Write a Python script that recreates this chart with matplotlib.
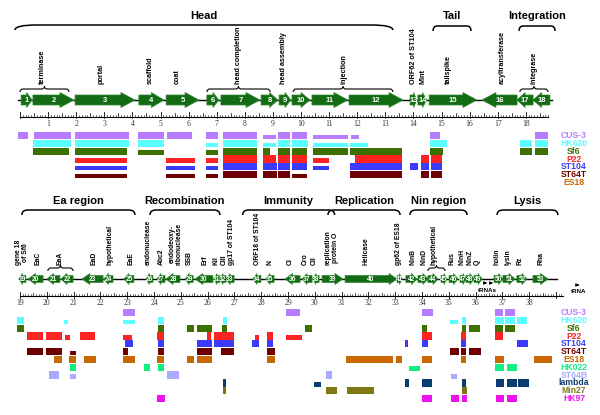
import numpy as np
import matplotlib.pyplot as plt
from matplotlib.path import Path
from matplotlib.patches import PathPatch, Polygon

plt.rcParams['font.family'] = ['Liberation Sans', 'DejaVu Sans']

# ---- gene maps (kb): number, start, end, strand ----
genes_top = [
    (1, 0.04, 0.43, 1), (2, 0.46, 1.92, 1), (3, 1.96, 4.09, 1), (4, 4.23, 5.12, 1),
    (5, 5.20, 6.37, 1), (6, 6.65, 7.08, 1), (7, 7.15, 8.54, 1), (8, 8.58, 9.18, 1),
    (9, 9.22, 9.64, 1), (10, 9.68, 10.32, 1), (11, 10.39, 11.67, 1), (12, 11.71, 13.63, 1),
    (13, 13.88, 14.13, 1), (14, 14.16, 14.48, 1), (15, 14.56, 16.26, 1),
    (16, 16.44, 17.69, -1), (17, 17.69, 18.26, -1), (18, 18.26, 18.86, -1),
]
genes_bot = [
    (19, 18.96, 19.22, -1), (20, 19.30, 19.86, -1), (21, 20.01, 20.49, -1), (22, 20.53, 20.98, -1),
    (23, 21.31, 22.10, -1), (24, 22.13, 22.47, -1), (25, 22.88, 23.25, -1), (26, 23.70, 23.96, -1),
    (27, 24.11, 24.41, -1), (28, 24.45, 24.97, -1), (29, 25.16, 25.46, -1), (30, 25.53, 26.20, -1),
    (31, 26.24, 26.46, -1), (32, 26.46, 26.69, -1), (33, 26.69, 26.99, -1), (34, 27.69, 27.99, -1),
    (35, 28.18, 28.48, -1), (36, 28.89, 29.45, -1), (37, 29.52, 29.90, -1), (38, 29.93, 30.16, -1),
    (39, 30.27, 31.05, 1), (40, 31.13, 33.07, 1), (41, 33.07, 33.25, 1), (42, 33.40, 33.81, 1),
    (43, 33.85, 34.22, 1), (44, 34.22, 34.60, 1), (45, 34.71, 34.93, 1), (46, 35.01, 35.34, 1),
    (47, 35.42, 35.64, 1), (48, 35.64, 35.94, 1), (49, 35.94, 36.24, 1), (50, 36.69, 37.02, 1),
    (51, 37.02, 37.47, 1), (52, 37.54, 37.92, 1), (53, 38.14, 38.70, 1),
]

names_top = [("terminase", 0.78), ("portal", 2.88), ("scaffold", 4.63), ("coat", 5.59),
             ("head completion", 7.76), ("head assembly", 9.36), ("injection", 11.53),
             ("ORF62 of ST104", 13.99), ("Mint", 14.34), ("tailspike", 15.23),
             ("acyltransferase", 17.15), ("integrase", 18.29)]
names_bot = [("gene 18\nof Sf6", 19.07), ("EaC", 19.67), ("EaA", 20.49), ("EaD", 21.76),
             ("hypothetical", 22.36), ("EaE", 23.14), ("endonuclease", 23.78), ("Abc2", 24.26),
             ("endodeoxy-\nribonuclease", 24.82), ("SSB", 25.31), ("Erf", 25.90), ("Kil", 26.31),
             ("CIII", 26.61), ("gp17 of ST104", 26.91), ("ORF18 of ST104", 27.88), ("N", 28.33),
             ("CI", 29.07), ("Cro", 29.63), ("CII", 29.97), ("replication\nprotein O", 30.64),
             ("Helicase", 31.91), ("gp62 of ES18", 33.14), ("NinB", 33.66), ("NinD", 34.07),
             ("hypothetical", 34.45), ("Rus", 35.12), ("NinH", 35.49), ("NinZ", 35.79),
             ("Q", 36.05), ("holin", 36.80), ("lysin", 37.21), ("Rz", 37.66), ("Rha", 38.44)]

# functional regions: label, start, end
regions_top = [("Head", -0.18, 13.27), ("Tail", 14.70, 16.05), ("Integration", 17.76, 19.04)]
regions_bot = [("Ea region", 19.07, 23.29), ("Recombination", 23.85, 26.46),
               ("Immunity", 27.31, 30.74), ("Replication", 30.49, 33.18),
               ("Nin region", 33.55, 35.68), ("Lysis", 36.80, 39.07)]
small_braces_top = [(-0.0, 1.74), (6.65, 8.90), (9.72, 13.27), (17.79, 18.79)]
small_braces_bot = [(20.04, 20.98), (34.22, 34.86)]

phages = ["CUS-3", "HK620", "Sf6", "P22", "ST104", "ST64T", "ES18",
          "HK022", "ST64B", "lambda", "Min27", "HK97"]
colors = ["#b77cff", "#5cffff", "#3d7000", "#ff2222", "#3b3bff", "#6e0000", "#cc6600",
          "#10f080", "#aaaaff", "#0c3c70", "#7d7814", "#ee10ee"]

# homologous regions per phage (kb); a third item marks a weak (thin) match
hits_top = {
    "CUS-3": [(-0.07, 0.28), (0.50, 1.81), (1.96, 3.88), (4.20, 5.12), (5.23, 6.12),
              (6.62, 7.05), (7.22, 8.43), (8.65, 9.11, 1), (9.18, 9.61), (9.68, 10.21),
              (10.43, 11.67, 1), (11.78, 12.06, 1), (14.59, 14.95), (18.33, 18.79)],
    "HK620": [(0.46, 1.81), (1.96, 3.88), (4.20, 5.12), (6.62, 7.05, 1), (7.22, 8.43),
              (8.65, 9.11, 1), (9.18, 9.61), (9.68, 10.25), (10.43, 11.67, 1),
              (11.74, 12.38, 1), (14.59, 15.20), (17.79, 18.22), (18.33, 18.79)],
    "Sf6": [(0.46, 1.74), (1.96, 3.81), (4.20, 5.12, 1), (6.62, 7.05, 1), (7.22, 8.43),
            (8.65, 8.90), (9.18, 9.61), (9.68, 10.21), (10.43, 11.67), (11.74, 13.59),
            (14.59, 15.05), (17.79, 18.22), (18.33, 18.79)],
    "P22": [(1.96, 3.81, 1), (5.20, 6.23, 1), (6.62, 7.05, 1), (7.22, 8.43), (8.65, 9.11),
            (9.18, 9.61), (9.68, 10.21), (10.43, 11.00, 1), (11.92, 13.59), (14.27, 14.56),
            (14.63, 15.02)],
    "ST104": [(1.96, 3.81, 1), (5.20, 6.23, 1), (6.62, 7.05, 1), (7.22, 8.43), (8.65, 9.15),
              (9.18, 9.61), (9.68, 10.21), (10.43, 11.00, 1), (11.74, 13.59), (13.88, 14.16),
              (14.27, 14.56), (14.63, 15.02)],
    "ST64T": [(1.96, 3.81, 1), (5.20, 6.23, 1), (6.62, 7.05, 1), (7.22, 8.43), (8.65, 9.15),
              (9.18, 9.61), (9.68, 10.21, 1), (11.74, 13.59), (14.27, 14.56), (14.63, 15.02)],
    "ES18": [],
}
hits_bot = {
    "CUS-3": [(22.84, 23.29), (28.93, 29.45), (34.00, 34.41), (36.72, 37.02), (37.10, 37.47)],
    "HK620": [(18.89, 19.15), (20.64, 20.79, 1), (22.84, 23.29, 1), (24.15, 24.37),
              (26.57, 26.72), (35.04, 35.34, 1), (35.49, 35.64), (36.72, 37.06),
              (37.10, 37.47), (37.54, 37.92)],
    "Sf6": [(18.89, 19.15), (24.15, 24.37), (25.23, 25.49), (25.60, 26.16), (26.54, 26.72),
            (29.63, 29.90), (34.00, 34.19), (35.49, 35.64), (35.75, 36.16), (36.72, 37.02),
            (37.10, 37.47)],
    "P22": [(19.26, 19.86), (19.97, 20.57), (20.68, 20.87, 1), (21.24, 21.80),
            (22.84, 23.18, 1), (24.11, 24.37), (25.98, 26.13), (26.24, 26.99),
            (27.77, 27.92, 1), (28.22, 28.44), (28.93, 29.52, 1), (34.00, 34.37),
            (35.46, 35.64), (36.72, 37.02)],
    "ST104": [(22.92, 23.22), (24.15, 24.37), (25.60, 26.16), (26.24, 26.99), (27.66, 27.92),
              (28.22, 28.44), (33.37, 33.48), (34.00, 34.22), (35.46, 35.64), (37.54, 37.96)],
    "ST64T": [(19.26, 19.86), (19.97, 20.57), (20.87, 21.09, 1), (22.84, 23.03),
              (24.15, 24.37), (25.60, 26.16), (26.50, 26.99), (28.22, 28.51),
              (35.04, 35.38), (35.46, 35.64), (35.75, 36.20)],
    "ES18": [(20.27, 20.57), (20.83, 21.09), (21.39, 21.84), (22.84, 23.29), (24.11, 24.37),
             (25.23, 25.49), (25.60, 26.16), (28.22, 28.51), (31.16, 32.92), (33.03, 33.25),
             (34.00, 34.37), (35.46, 35.64), (36.72, 37.06), (38.18, 38.85)],
    "HK022": [(20.87, 21.09), (23.63, 23.85), (24.15, 24.37), (33.51, 33.93, 1),
              (36.72, 37.06), (37.17, 37.54)],
    "ST64B": [(20.08, 20.46), (20.87, 21.09, 1), (24.49, 24.93), (30.42, 30.64),
              (35.08, 35.31, 1)],
    "lambda": [(26.57, 26.69), (29.97, 30.23, 1), (33.37, 33.51), (34.00, 34.37),
               (35.49, 35.64), (36.76, 37.06), (37.17, 37.54), (37.58, 37.99)],
    "Min27": [(26.57, 26.69), (30.42, 30.83), (31.20, 32.21), (35.49, 35.68)],
    "HK97": [(24.11, 24.41), (34.00, 34.37), (35.08, 35.38), (35.49, 35.68),
             (36.76, 37.06), (37.17, 37.54)],
}

GREEN = "#136b13"

fig = plt.figure(figsize=(6, 4.15), dpi=100)
# two overlaid axes sharing pixel-like y, each with its own kb scale
ax1 = fig.add_axes([0, 0, 1, 1])
ax1.set_xlim(-20 / 28.1, 580 / 28.1)
ax2 = fig.add_axes([0, 0, 1, 1])
ax2.set_xlim(19 - 20 / 26.8, 19 + 580 / 26.8)
for ax in (ax1, ax2):
    ax.set_ylim(415, 0)
    ax.axis('off')
    ax.patch.set_alpha(0)


def kb(ax, px):
    # pixel width -> kb for this axis
    lo, hi = ax.get_xlim()
    return px * (hi - lo) / 600


def draw_gene(ax, n, s, e, strand, y, body, head, hl, fs):
    hl = min(kb(ax, hl), 0.5 * (e - s))
    if strand > 0:
        pts = [(s, y - body / 2), (e - hl, y - body / 2), (e - hl, y - head / 2), (e, y),
               (e - hl, y + head / 2), (e - hl, y + body / 2), (s, y + body / 2)]
    else:
        pts = [(e, y - body / 2), (s + hl, y - body / 2), (s + hl, y - head / 2), (s, y),
               (s + hl, y + head / 2), (s + hl, y + body / 2), (e, y + body / 2)]
    ax.add_patch(Polygon(pts, closed=True, fc=GREEN, ec="#2e8a2e", lw=0.5, zorder=3))
    ax.text((s + e) / 2, y + 0.3, str(n), color='white', fontsize=fs, fontweight='bold',
            ha='center', va='center', zorder=4)


def bracket(ax, x0, x1, y, drop=5, r_px=8):
    r = kb(ax, r_px)
    v = [(x0, y + drop), (x0, y), (x0 + r, y), (x1 - r, y), (x1, y), (x1, y + drop)]
    c = [Path.MOVETO, Path.CURVE3, Path.CURVE3, Path.LINETO, Path.CURVE3, Path.CURVE3]
    ax.add_patch(PathPatch(Path(v, c), fc='none', ec='black', lw=1.1))


def curly(ax, x0, x1, y, drop=3, r_px=3):
    r = kb(ax, r_px)
    xm = (x0 + x1) / 2
    v = [(x0, y + drop), (x0, y), (x0 + r, y), (xm - r, y), (xm, y), (xm, y - 2.5),
         (xm, y), (xm + r, y), (x1 - r, y), (x1, y), (x1, y + drop)]
    c = [Path.MOVETO, Path.CURVE3, Path.CURVE3, Path.LINETO, Path.CURVE3, Path.CURVE3,
         Path.CURVE3, Path.CURVE3, Path.LINETO, Path.CURVE3, Path.CURVE3]
    ax.add_patch(PathPatch(Path(v, c), fc='none', ec='black', lw=0.8))


def ruler(ax, x0, x1, y, first, last):
    ax.plot([x0, x1], [y, y], color='black', lw=0.8)
    for t in np.arange(np.ceil(x0 * 10) / 10, x1 + 1e-6, 0.1):
        t = round(t, 1)
        if abs(t - round(t)) < 1e-6:
            ax.plot([t, t], [y - 4.5, y + 1.5], color='black', lw=0.6)
        elif abs(t * 2 - round(t * 2)) < 1e-6:
            ax.plot([t, t], [y - 3.5, y], color='black', lw=0.5)
        else:
            ax.plot([t, t], [y - 2, y], color='black', lw=0.4)
    for k in range(first, last + 1):
        ax.text(k, y + 6.5, str(k), fontsize=5.5, family='Liberation Serif',
                ha='center', va='center', color='#333333')


def hits(ax, table, top0):
    x_leg = ax.get_xlim()[0] + kb(ax, 574)
    for i, name in enumerate(phages):
        if name not in table:
            continue
        slot = top0 + 7.8 * i
        for h in table[name]:
            if len(h) > 2:
                ax.broken_barh([(h[0], h[1] - h[0])], (slot + 3.3, 4.5), color=colors[i], lw=0)
            else:
                ax.broken_barh([(h[0], h[1] - h[0])], (slot + 0.4, 7.4), color=colors[i], lw=0)
        ax.text(x_leg, slot + 4.2, name, color=colors[i], fontsize=6.2, fontweight='bold',
                ha='center', va='center')


# ---- top half ----
ax1.plot([-0.07, 18.93], [100, 100], color='black', lw=1.0, zorder=2)
for n, s, e, st in genes_top:
    draw_gene(ax1, n, s, e, st, 100, 10, 15, 14, 5.5)
ruler(ax1, 0, 18.8, 117, 1, 18)
for lab, x in names_top:
    ax1.text(x, 84, lab, rotation=90, fontsize=5.2, fontweight='bold', ha='center', va='bottom')
for x0, x1 in small_braces_top:
    curly(ax1, x0, x1, 89)
for lab, x0, x1 in regions_top:
    if lab == "Head":
        bracket(ax1, x0, x1, 25, drop=5, r_px=22)
    else:
        bracket(ax1, x0, x1, 26, drop=5, r_px=4)
    ax1.text((x0 + x1) / 2, 21, lab, fontsize=8, fontweight='bold', ha='center', va='bottom')
hits(ax1, hits_top, 131.5)

# ---- bottom half ----
ax2.plot([18.96, 39.04], [279, 279], color='black', lw=1.0, zorder=2)
for n, s, e, st in genes_bot:
    draw_gene(ax2, n, s, e, st, 279, 7, 11, 8, 4.8)
ruler(ax2, 19.0, 39.26, 296, 19, 38)
for lab, x in names_bot:
    ax2.text(x, 265, lab, rotation=90, fontsize=4.9, fontweight='bold', ha='center',
             va='bottom', linespacing=1.0)
for x0, x1 in small_braces_bot:
    curly(ax2, x0, x1, 268)
for lab, x0, x1 in regions_bot:
    bracket(ax2, x0, x1, 210, drop=5, r_px=6)
    ax2.text((x0 + x1) / 2, 206, lab, fontsize=8, fontweight='bold', ha='center', va='bottom')
hits(ax2, hits_bot, 308.5)

# tRNA marks
for s, e in [(36.24, 36.43), (36.46, 36.65)]:
    ax2.annotate('', xy=(e, 283), xytext=(s, 283),
                 arrowprops=dict(arrowstyle='-|>', color='black', lw=0.8, mutation_scale=4))
ax2.text(36.45, 290, "tRNAs", fontsize=4.5, fontweight='bold', ha='center', va='center')
ax2.annotate('', xy=(39.97, 285), xytext=(39.71, 285),
             arrowprops=dict(arrowstyle='-|>', color='black', lw=0.8, mutation_scale=4))
ax2.text(39.84, 291, "tRNA", fontsize=4.5, fontweight='bold', ha='center', va='center')

fig.savefig('out.png', dpi=100)
